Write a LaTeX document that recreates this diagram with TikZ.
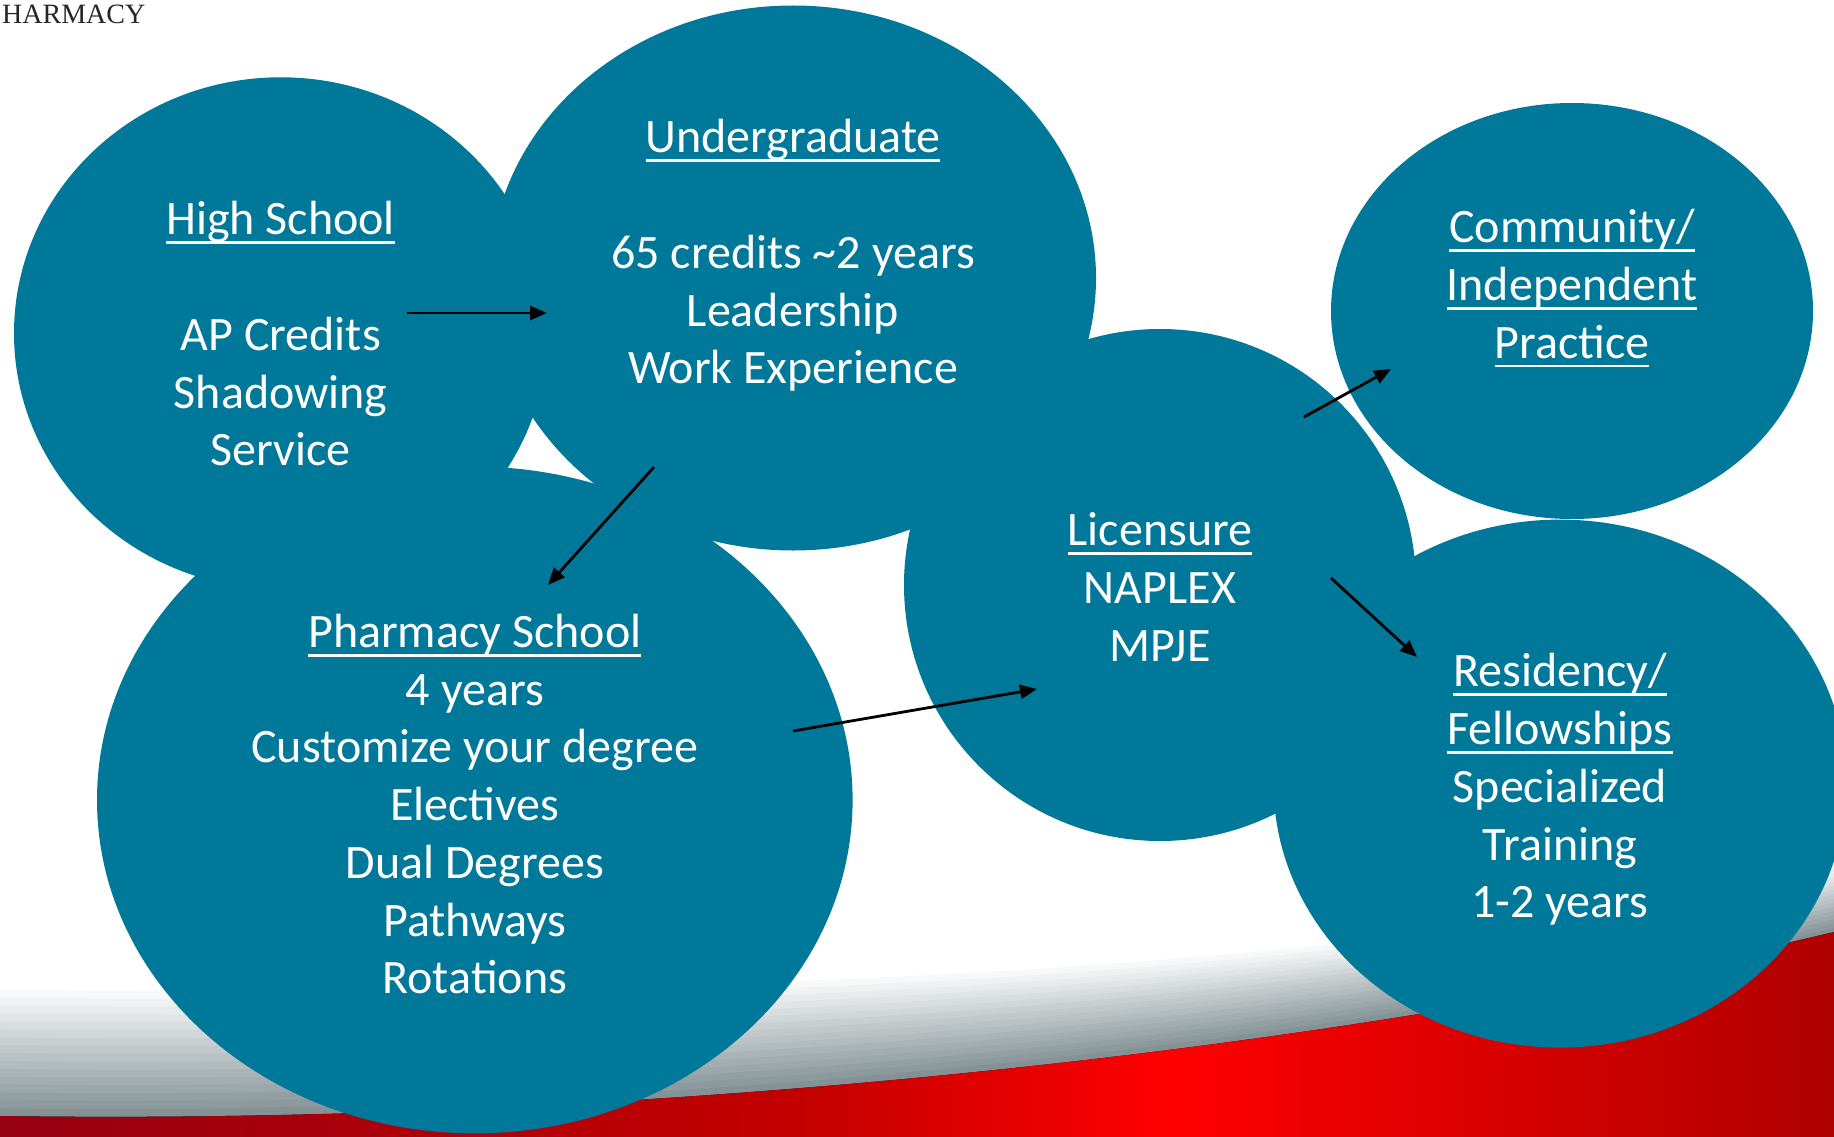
\documentclass[tikz,border=0pt]{standalone}
\usepackage{fontspec}
\setmainfont{Carlito}
\newfontfamily\hdrfont{Liberation Serif}
\usetikzlibrary{arrows.meta,shapes.geometric}
\definecolor{bubble}{RGB}{0,120,154}
\definecolor{bandgrey}{RGB}{132,146,150}
\definecolor{redL}{RGB}{150,0,18}
\definecolor{redQ}{RGB}{195,0,0}
\definecolor{redM}{RGB}{255,0,0}
\definecolor{redR}{RGB}{175,0,0}
\pgfdeclarehorizontalshading{redband}{100bp}{color(0bp)=(redL); color(25bp)=(redL); color(46.8bp)=(redQ); color(57bp)=(redM); color(75bp)=(redR); color(100bp)=(redR)}
\newcommand\ulx[1]{\setbox0\hbox{#1}\rlap{\rule[-9pt]{\wd0}{2.6pt}}\box0}
\tikzset{
  blob/.style={ellipse, fill=bubble, draw=none, inner sep=0pt, outer sep=0pt},
  txt/.style={text=white, align=center, inner sep=0pt, anchor=north, font=\fontsize{48}{57.7}\selectfont},
  arr/.style={-{Triangle[length=17pt,width=14pt]}, line width=2.8pt, draw=black}
}
\begin{document}
\begin{tikzpicture}[x=1pt,y=-1pt]
\useasboundingbox (0,0) rectangle (1834,1137);
\clip (0,0) rectangle (1834,1137);
\fill[white] (0,0) rectangle (1834,1137);
% grey swoosh bands
\foreach \k in {0,...,15}{
  \pgfmathsetmacro\f{\k/16}
  \pgfmathsetmacro\pc{100*(\k+1)/16}
  \fill[bandgrey!\pc!white] (0,{990+126*\f}) .. controls (600,{995+130*\f}) and (1300,{985+75*\f}) .. (1834,{865+67*\f}) -- (1834,1137) -- (0,1137) -- cycle;
}
% red swoosh
\fill[shading=redband] (0,1116) .. controls (600,1125) and (1300,1060) .. (1834,932) -- (1834,1137) -- (0,1137) -- cycle;
% header
\node[anchor=base west, font=\hdrfont\fontsize{28}{30}\selectfont, text=black!85, inner sep=0pt] (hdr) at (2,23.3) {HARMACY};
% bubbles
\node[blob, minimum width=533.4pt, minimum height=512pt] (hs) at (280.7,333.3) {};
\node[blob, minimum width=606pt, minimum height=545pt] (ug) at (793,278) {};
\node[blob, minimum width=755.6pt, minimum height=666.7pt] (ph) at (474.8,800) {};
\node[blob, minimum width=512pt, minimum height=512pt] (li) at (1160,585) {};
\node[blob, minimum width=482pt, minimum height=416pt] (co) at (1572,311) {};
\node[blob, minimum width=573pt, minimum height=528pt] (re) at (1560,783.6) {};
% texts
\node[txt] (hsT) at (280.7,194.4) {\strut\ulx{High School}\\ \mbox{}\\ AP Credits\\ Shadowing\\ Service};
\node[txt] (ugT) at (793,112.4) {\strut\ulx{Undergraduate}\\ \mbox{}\\ 65 credits \textasciitilde2 years\\ Leadership\\ Work Experience};
\node[txt] (phT) at (474.8,607) {\strut\ulx{Pharmacy School}\\ 4 years\\ Customize your degree\\ Electives\\ Dual Degrees\\ Pathways\\ Rotations};
\node[txt] (liT) at (1160,505.4) {\strut\ulx{Licensure}\\ NAPLEX\\ MPJE};
\node[txt] (coT) at (1572,202.4) {\strut\ulx{Community/}\\ \ulx{Independent}\\ \ulx{Practice}};
\node[txt] (reT) at (1560,646.4) {\strut\ulx{Residency/}\\ \ulx{Fellowships}\\ Specialized\\ Training\\ 1-2 years};
% arrows
\coordinate (a1s) at (407,313); \coordinate (a1e) at (547,313);
\coordinate (a2s) at (654,467); \coordinate (a2e) at (548,585);
\coordinate (a3s) at (793,731); \coordinate (a3e) at (1037,689);
\coordinate (a4s) at (1304,417); \coordinate (a4e) at (1391,369);
\coordinate (a5s) at (1331,578); \coordinate (a5e) at (1417,657);
\draw[arr] (a1s) -- (a1e);
\draw[arr] (a2s) -- (a2e);
\draw[arr] (a3s) -- (a3e);
\draw[arr] (a4s) -- (a4e);
\draw[arr] (a5s) -- (a5e);
\end{tikzpicture}
\end{document}
